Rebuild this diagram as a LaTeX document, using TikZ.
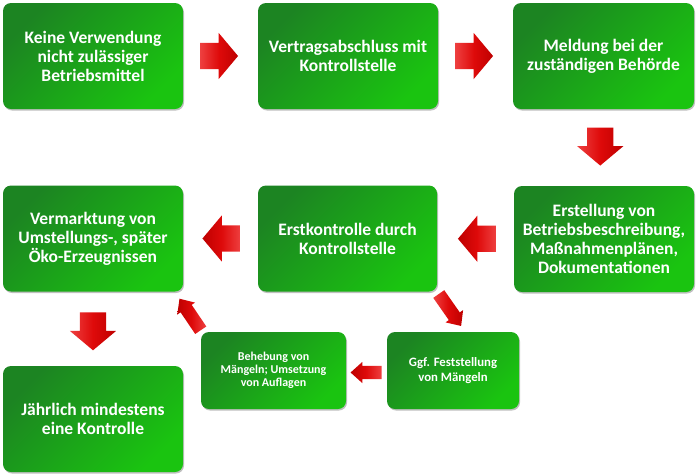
\documentclass[tikz,border=0pt]{standalone}
\usepackage{fontspec}
\setmainfont{Carlito}
\usetikzlibrary{shapes.arrows,shadows,calc}
\definecolor{gdark}{RGB}{28,132,34}
\definecolor{glight}{RGB}{26,196,16}
\definecolor{arl}{RGB}{238,64,64}
\definecolor{arm}{RGB}{222,10,10}
\definecolor{ard}{RGB}{190,0,0}
\tikzset{
  box/.style={rounded corners=8pt, top color=gdark, bottom color=glight, shading angle=45,
    minimum width=180pt, minimum height=106pt, inner sep=2pt, text=white, align=center,
    font=\fontsize{17.5}{19}\selectfont\bfseries,
    drop shadow={shadow xshift=1pt, shadow yshift=-1.5pt, opacity=0.25, fill=black}},
  smallbox/.style={box, minimum height=77pt},
  bigarrow/.style={single arrow, draw=none, inner xsep=0pt, inner ysep=13pt, minimum width=46pt,
    minimum height=38pt, single arrow head extend=10pt, single arrow tip angle=100,
    left color=arl, right color=ard, middle color=arm},
  bigarrowrev/.style={bigarrow, left color=ard, right color=arl, middle color=arm},
  smallarrow/.style={single arrow, draw=none, inner xsep=0pt, inner ysep=6.5pt, minimum width=21pt,
    minimum height=33pt, single arrow head extend=4pt, single arrow tip angle=84,
    left color=arl, right color=ard, middle color=arm},
  smallarrowrev/.style={smallarrow, left color=ard, right color=arl, middle color=arm}
}
\begin{document}
\begin{tikzpicture}[x=1pt,y=1pt]
\useasboundingbox[fill=white] (0,0) rectangle (700,-475);
% boxes
\node[box] (b1) at (93,-56) {Keine Verwendung\\nicht zulässiger\\Betriebsmittel};
\node[box] (b2) at (348,-56) {Vertragsabschluss mit\\Kontrollstelle};
\node[box, minimum width=181pt] (b3) at (603.5,-56) {Meldung bei der\\zuständigen Behörde};
\node[box] (b4) at (604,-239) {Erstellung von\\Betriebsbeschreibung,\\Maßnahmenplänen,\\Dokumentationen};
\node[box, minimum width=179pt] (b5) at (347.5,-238.5) {Erstkontrolle durch\\Kontrollstelle};
\node[box] (b6) at (93,-238.5) {Vermarktung von\\Umstellungs-, später\\Öko-Erzeugnissen};
\node[box] (b7) at (93,-419) {Jährlich mindestens\\eine Kontrolle};
\node[smallbox, minimum width=132pt, font=\fontsize{12.8}{14.5}\selectfont\bfseries] (b8) at (453,-370.5) {Ggf. Feststellung\\von Mängeln};
\node[smallbox, minimum width=145pt, font=\fontsize{12}{13}\selectfont\bfseries] (b9) at (273.5,-370.5) {Behebung von\\Mängeln; Umsetzung\\von Auflagen};
% arrows
\node[bigarrow] (a12) at ($(b1.east)!0.5!(b2.west)+(-7,0)$) {};
\node[bigarrow] (a23) at ($(b2.east)!0.5!(b3.west)+(-7,0)$) {};
\node[bigarrow, rotate=-90] (a34) at ($(b3.south)!0.5!(b4.north)+(-3.5,6.5)$) {};
\node[bigarrowrev, rotate=180] (a45) at ($(b4.west)!0.5!(b5.east)+(7,0)$) {};
\node[bigarrowrev, rotate=180] (a56) at ($(b5.west)!0.5!(b6.east)+(6.5,0)$) {};
\node[bigarrow, rotate=-90] (a67) at ($(b6.south)!0.5!(b7.north)+(0,3)$) {};
\node[smallarrow, minimum height=39pt, rotate=-55] (a58) at ($(b5.south east)!0.5!(b8.north)+(2.7,4.8)$) {};
\node[smallarrowrev, minimum height=31pt, rotate=180] (a89) at ($(b8.west)!0.5!(b9.east)+(3.3,-2)$) {};
\node[smallarrowrev, minimum height=38pt, rotate=124] (a96) at ($(b9.north west)!0.5!(b6.south east)+(0.2,-5.8)$) {};
\end{tikzpicture}
\end{document}
